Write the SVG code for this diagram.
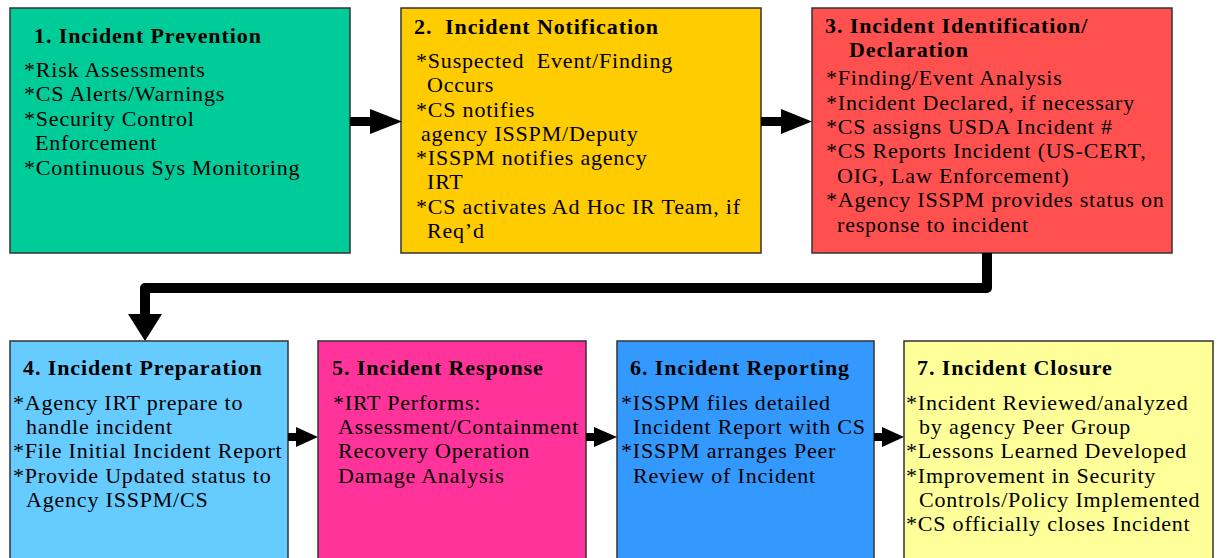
<svg xmlns="http://www.w3.org/2000/svg" width="1219" height="558" viewBox="0 0 1219 558">
<defs>
<style>
.box{stroke:#333;stroke-width:1.5}
text{font-family:"Liberation Serif","Times New Roman",serif;fill:#000;white-space:pre}
.t{font-size:22px;font-weight:bold;letter-spacing:0.9px}
.b{font-size:22px;letter-spacing:0.8px}
.arr{fill:#000;stroke:none}
.line{fill:none;stroke:#000;stroke-width:10;stroke-linejoin:round}
</style>
</defs>
<rect width="1219" height="558" fill="#fff"/>
<g id="node1">
<rect class="box" x="10" y="8" width="340" height="245" fill="#00CC99"/>
<text class="t" x="34" y="43">1. Incident Prevention</text>
<text class="b" x="24" y="77">*Risk Assessments</text>
<text class="b" x="24" y="101">*CS Alerts/Warnings</text>
<text class="b" x="24" y="126">*Security Control</text>
<text class="b" x="35" y="150">Enforcement</text>
<text class="b" x="24" y="175">*Continuous Sys Monitoring</text>
</g>
<g id="node2">
<rect class="box" x="401" y="8" width="360" height="245" fill="#FFCC00"/>
<text class="t" x="414" y="34" xml:space="preserve">2.  Incident Notification</text>
<text class="b" x="416" y="68" xml:space="preserve">*Suspected  Event/Finding</text>
<text class="b" x="427" y="92">Occurs</text>
<text class="b" x="416" y="117">*CS notifies</text>
<text class="b" x="421" y="141">agency ISSPM/Deputy</text>
<text class="b" x="416" y="165">*ISSPM notifies agency</text>
<text class="b" x="427" y="189">IRT</text>
<text class="b" x="416" y="214">*CS activates Ad Hoc IR Team, if</text>
<text class="b" x="427" y="238">Req’d</text>
</g>
<g id="node3">
<rect class="box" x="812" y="8" width="360" height="245" fill="#FF5050"/>
<text class="t" x="825" y="33">3. Incident Identification/</text>
<text class="t" x="849" y="57">Declaration</text>
<text class="b" x="826" y="85">*Finding/Event Analysis</text>
<text class="b" x="826" y="110">*Incident Declared, if necessary</text>
<text class="b" x="826" y="134">*CS assigns USDA Incident #</text>
<text class="b" x="826" y="158">*CS Reports Incident (US-CERT,</text>
<text class="b" x="837" y="183">OIG, Law Enforcement)</text>
<text class="b" x="826" y="207">*Agency ISSPM provides status on</text>
<text class="b" x="837" y="232">response to incident</text>
</g>
<g id="node4">
<rect class="box" x="10" y="341" width="278" height="230" fill="#66CCFF"/>
<text class="t" x="23" y="375">4. Incident Preparation</text>
<text class="b" x="13" y="410">*Agency IRT prepare to</text>
<text class="b" x="26" y="434">handle incident</text>
<text class="b" x="13" y="458">*File Initial Incident Report</text>
<text class="b" x="13" y="483">*Provide Updated status to</text>
<text class="b" x="26" y="507">Agency ISSPM/CS</text>
</g>
<g id="node5">
<rect class="box" x="318" y="341" width="268" height="230" fill="#FF3399"/>
<text class="t" x="332" y="375">5. Incident Response</text>
<text class="b" x="333" y="410">*IRT Performs:</text>
<text class="b" x="338" y="434">Assessment/Containment</text>
<text class="b" x="338" y="458">Recovery Operation</text>
<text class="b" x="338" y="483">Damage Analysis</text>
</g>
<g id="node6">
<rect class="box" x="617" y="341" width="257" height="230" fill="#3399FF"/>
<text class="t" x="630" y="375">6. Incident Reporting</text>
<text class="b" x="621" y="410">*ISSPM files detailed</text>
<text class="b" x="633" y="434">Incident Report with CS</text>
<text class="b" x="621" y="458">*ISSPM arranges Peer</text>
<text class="b" x="633" y="483">Review of Incident</text>
</g>
<g id="node7">
<rect class="box" x="904" y="341" width="309" height="230" fill="#FFFF99"/>
<text class="t" x="917" y="375">7. Incident Closure</text>
<text class="b" x="906" y="410">*Incident Reviewed/analyzed</text>
<text class="b" x="919" y="434">by agency Peer Group</text>
<text class="b" x="906" y="458">*Lessons Learned Developed</text>
<text class="b" x="906" y="483">*Improvement in Security</text>
<text class="b" x="919" y="507">Controls/Policy Implemented</text>
<text class="b" x="906" y="531">*CS officially closes Incident</text>
</g>
<g id="connectors">
<polygon class="arr" points="350,117 370,117 370,109 402,121.5 370,134 370,126 350,126"/>
<polygon class="arr" points="761,117 781,117 781,109 812,121.5 781,134 781,126 761,126"/>
<polyline class="line" points="987,253 987,288 145,288 145,316"/>
<polygon class="arr" points="128,314 162,314 145,341"/>
<polygon class="arr" points="288,433 296,433 296,427 318,437 296,447 296,441 288,441"/>
<polygon class="arr" points="586,433 594,433 594,427 617,437 594,447 594,441 586,441"/>
<polygon class="arr" points="874,433 882,433 882,427 904,437 882,447 882,441 874,441"/>
</g>
</svg>
